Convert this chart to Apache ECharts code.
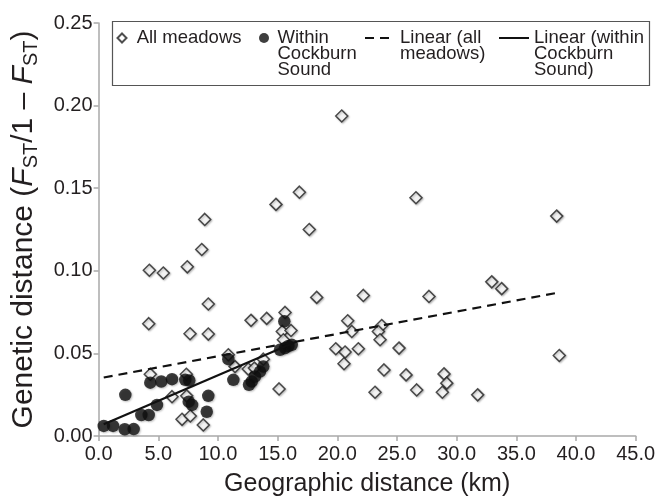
<!DOCTYPE html>
<html>
<head>
<meta charset="utf-8">
<title>Genetic vs geographic distance</title>
<script src="https://cdn.jsdelivr.net/npm/echarts@6/dist/echarts.min.js"></script>
<style>
  html, body { margin: 0; padding: 0; background: #fff; }
  #chart { width: 663px; height: 497px; }
</style>
</head>
<body>
<div id="chart"></div>
<script>
// all pairwise meadow comparisons, [km, Fst/(1-Fst)]
var allMeadows = [
  [4.25, 0.1003], [5.42, 0.0987], [7.43, 0.1024], [8.64, 0.1129], [8.89, 0.1311],
  [9.19, 0.0799], [4.2, 0.068], [12.77, 0.070], [14.08, 0.0712], [15.62, 0.0748],
  [14.86, 0.1402], [16.82, 0.1476], [17.65, 0.125], [18.27, 0.0839], [20.37, 0.1937],
  [26.59, 0.1442], [38.38, 0.1331], [22.18, 0.0851], [27.68, 0.0845], [32.94, 0.0933],
  [33.77, 0.0892], [20.87, 0.0698], [21.21, 0.0633], [23.72, 0.0669], [23.44, 0.0633],
  [23.58, 0.0583], [19.87, 0.0528], [20.65, 0.0508], [21.76, 0.0528], [20.56, 0.0437],
  [25.17, 0.0532], [23.91, 0.040], [25.76, 0.037], [28.94, 0.0376], [29.17, 0.032],
  [28.8, 0.0265], [23.16, 0.0265], [26.65, 0.0279], [31.76, 0.0249], [38.6, 0.0487],
  [7.66, 0.0619], [9.19, 0.0617], [15.39, 0.0633], [16.12, 0.0639], [15.48, 0.0583],
  [10.87, 0.0492], [11.43, 0.042], [13.8, 0.0465], [12.54, 0.0405], [13.05, 0.0411],
  [15.12, 0.0285], [8.77, 0.0067], [4.33, 0.0374], [7.35, 0.0374], [6.15, 0.0238],
  [7.38, 0.0243], [6.99, 0.0101], [7.68, 0.0121]
];

// pairs within Cockburn Sound
var cockburn = [
  [0.43, 0.0061], [1.21, 0.0061], [2.19, 0.0041], [2.94, 0.0042], [2.24, 0.0249],
  [3.58, 0.0127], [4.2, 0.0127], [4.89, 0.0188], [4.33, 0.0323], [5.25, 0.033],
  [6.15, 0.0344], [7.26, 0.034], [7.6, 0.0336], [7.55, 0.0208], [7.83, 0.0188],
  [9.19, 0.0243], [9.06, 0.0147], [10.87, 0.0465], [11.29, 0.034], [12.83, 0.033],
  [12.6, 0.031], [13.1, 0.036], [13.52, 0.039], [13.8, 0.042], [15.2, 0.0522],
  [15.62, 0.0532], [15.9, 0.0545], [16.18, 0.0552], [15.56, 0.0694]
];

// trend line end points as drawn in the figure
var trendAll = [[0.43, 0.0354], [38.66, 0.087]];
var trendCockburn = [[0.43, 0.0071], [16.6, 0.0572]];

var xTicks = { min: 0, max: 45, interval: 5 };
var yTicks = { min: 0, max: 0.25, interval: 0.05 };

var names = ['All meadows', 'Within Cockburn Sound', 'Linear (all meadows)', 'Linear (within Cockburn Sound)'];
// blank lines on top keep the first text line level with the legend icon
var legendText = [
  ' All meadows',
  ' \n \nWithin\nCockburn\nSound',
  ' \nLinear (all\nmeadows)',
  ' \n \nLinear (within\nCockburn\nSound)'
];

var font = 'Liberation Sans, Arial, Helvetica, sans-serif';
var ink = '#231f20';
var axisGrey = '#a9a9a9';

var myChart = echarts.init(document.getElementById('chart'));

function legendItem(i, left, top, w, h, icon) {
  var lg = {
    data: [icon ? { name: names[i], icon: icon } : names[i]],
    left: left,
    top: top,
    padding: 0,
    itemWidth: w,
    itemHeight: h,
    z: 10,
    selectedMode: false,
    formatter: function () { return legendText[i]; },
    textStyle: { fontFamily: font, fontSize: 18.5, lineHeight: 16, color: ink }
  };
  // line legends: draw only the stroke, no marker in the middle
  if (!icon) lg.itemStyle = { opacity: 0 };
  return lg;
}

var axisCommon = {
  type: 'value',
  splitLine: { show: false },
  axisLine: { show: true, lineStyle: { color: axisGrey, width: 1.5 } },
  axisTick: { show: true, length: 5, lineStyle: { color: axisGrey, width: 1.5 } },
  nameLocation: 'middle'
};

var option = {
  animation: false,
  backgroundColor: '#fff',
  grid: { left: 98.6, right: 27.3, top: 23, bottom: 61, outerBoundsMode: 'none' },
  legend: [
    legendItem(0, 116.5, 28.5, 9, 9, 'diamond'),
    legendItem(1, 259, -3.5, 17, 10, 'circle'),
    legendItem(2, 364, 12.5, 30, 10, null),
    legendItem(3, 498, -3.5, 30, 10, null)
  ],
  graphic: [{
    type: 'rect',
    z: 5,
    shape: { x: 112.5, y: 21.5, width: 537, height: 64 },
    style: { fill: '#fff', stroke: '#555', lineWidth: 1.2 }
  }],
  xAxis: Object.assign({}, axisCommon, {
    min: xTicks.min, max: xTicks.max, interval: xTicks.interval,
    axisLabel: {
      margin: 8, fontSize: 20, fontFamily: font, color: ink,
      formatter: function (v) { return v.toFixed(1); }
    },
    name: 'Geographic distance (km)',
    nameGap: 36,
    nameTextStyle: { fontSize: 25, fontFamily: font, color: ink }
  }),
  yAxis: Object.assign({}, axisCommon, {
    min: yTicks.min, max: yTicks.max, interval: yTicks.interval,
    axisLabel: {
      margin: 6, fontSize: 20, fontFamily: font, color: ink,
      formatter: function (v) { return v.toFixed(2); }
    },
    name: 'Genetic distance ({i|F}{s|ST}/1 \u2013 {i|F}{s|ST})',
    nameGap: 57,
    nameTextStyle: {
      fontSize: 30, fontFamily: font, color: ink, lineHeight: 36,
      rich: {
        i: { fontSize: 30, fontStyle: 'italic', fontFamily: font, color: ink },
        s: { fontSize: 20, fontFamily: font, color: ink, verticalAlign: 'bottom', lineHeight: 20 }
      }
    }
  }),
  series: [
    {
      name: names[0],
      type: 'scatter',
      z: 2,
      symbol: 'diamond',
      symbolSize: 12,
      data: allMeadows,
      itemStyle: {
        color: '#fff', borderColor: '#222', borderWidth: 1.5,
        shadowBlur: 2, shadowOffsetX: 1, shadowOffsetY: 1, shadowColor: 'rgba(0,0,0,0.3)'
      }
    },
    {
      name: names[1],
      type: 'scatter',
      z: 3,
      symbol: 'circle',
      symbolSize: 12.5,
      data: cockburn,
      itemStyle: {
        color: '#0f0f0f',
        shadowBlur: 2, shadowOffsetX: 1, shadowOffsetY: 1, shadowColor: 'rgba(0,0,0,0.3)'
      }
    },
    {
      name: names[2],
      type: 'line',
      z: 4,
      symbol: 'none',
      data: trendAll,
      itemStyle: { color: '#111' },
      lineStyle: { color: '#111', width: 2.2, type: [9, 6] }
    },
    {
      name: names[3],
      type: 'line',
      z: 4,
      symbol: 'none',
      data: trendCockburn,
      itemStyle: { color: '#111' },
      lineStyle: { color: '#111', width: 2.2, type: 'solid' }
    }
  ]
};

option && myChart.setOption(option);
</script>
</body>
</html>
